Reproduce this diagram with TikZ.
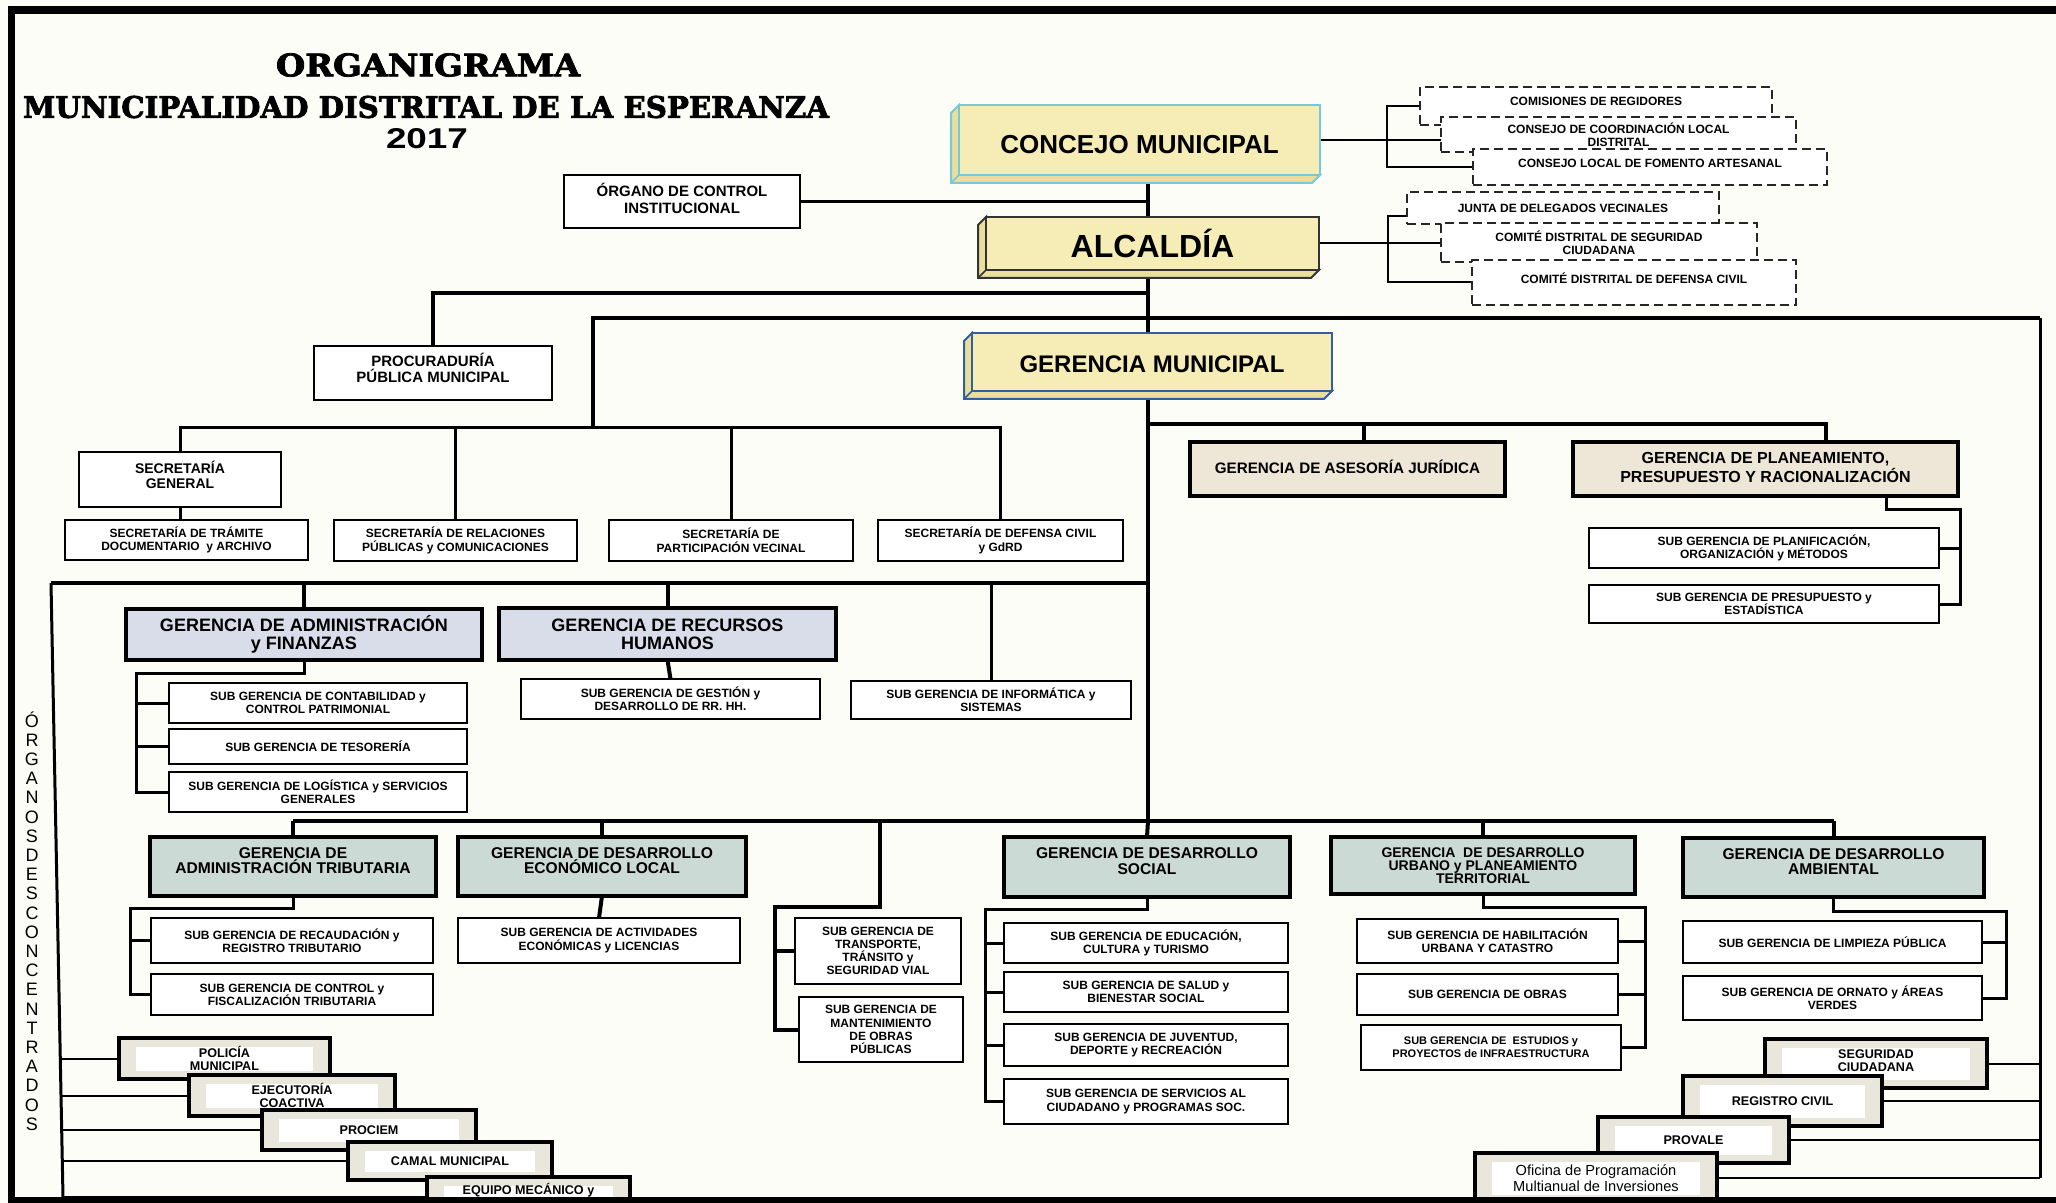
\documentclass[tikz,border=0pt]{standalone}
\usepackage{fontspec}
\usepackage{graphicx}
\setmainfont{Liberation Sans}
\newfontfamily\titlefont{DejaVu Serif}[FakeBold=2.5]
\usetikzlibrary{calc}
\pgfdeclarelayer{back}
\pgfdeclarelayer{bg}
\pgfdeclarelayer{front}
\pgfsetlayers{back,bg,main,front}
\definecolor{paper}{RGB}{253,253,248}
\definecolor{yel}{RGB}{246,236,182}
\definecolor{yelside}{RGB}{234,222,156}
\definecolor{cyanb}{RGB}{120,200,215}
\definecolor{blueb}{RGB}{50,95,160}
\definecolor{beigeg}{RGB}{238,230,215}
\definecolor{bluegr}{RGB}{216,221,233}
\definecolor{greeng}{RGB}{204,218,213}
\definecolor{desc}{RGB}{233,231,219}
\newcommand\setfs[2]{\fontsize{#1}{#2}\selectfont}
\newcommand\OrgBox[7]{%
 \pgfmathsetmacro\bxcx{(#3+#5)/2}%
 \pgfmathsetmacro\bxcy{(#4+#6)/2}%
 \pgfmathsetmacro\bxw{(#5-#3)/2}%
 \pgfmathsetmacro\bxh{(#6-#4)/2}%
 \node[#1, minimum width=\bxw pt, minimum height=\bxh pt] (#2) at (\bxcx,\bxcy) {#7};}
\tikzset{
 base/.style={inner sep=0pt, outer sep=0pt, align=center},
 plainbox/.style={base, draw=black, line width=1.2pt, fill=white},
 subbox/.style={plainbox, font=\bfseries\setfs{6}{6.6}},
 secbox/.style={plainbox, font=\bfseries\setfs{6}{6.8}},
 bigbox/.style={plainbox, font=\bfseries\setfs{7.5}{8.2}},
 dashbox/.style={base, draw=black!85, dash pattern=on 4.5pt off 2.5pt, line width=1.4pt, fill=white, font=\bfseries\setfs{6}{6.5}},
 gerA/.style={base, draw=black, line width=1.8pt, fill=beigeg, font=\bfseries\setfs{8}{7.6}},
 gerB/.style={base, draw=black, line width=1.8pt, fill=bluegr, font=\bfseries\setfs{9}{9}},
 gerC/.style={base, draw=black, line width=1.8pt, fill=greeng, font=\bfseries\setfs{7.8}{7.6}},
 descbox/.style={base, draw=black, line width=1.6pt, fill=desc, font=\bfseries\setfs{6.3}{6.6},
   path picture={\fill[white] ($(path picture bounding box.south west)+(8.5pt,4pt)$) rectangle ($(path picture bounding box.north east)+(-8.5pt,-4.5pt)$);}},
 trunk/.style={line width=2pt},
 mid/.style={line width=1.5pt},
 thinl/.style={line width=1pt},
}
\begin{document}
\begin{tikzpicture}[x=0.5pt,y=-0.5pt]
\useasboundingbox (0,0) rectangle (2056,1203);
\begin{pgfonlayer}{back}
\fill[paper] (0,0) rectangle (2056,1203);
\end{pgfonlayer}
% ---------- title
\node[base, font=\titlefont\bfseries] (t1) at (428,65) {\resizebox{152pt}{11.5pt}{ORGANIGRAMA}};
\node[base, font=\titlefont\bfseries] (t2) at (426,107) {\resizebox{403pt}{11pt}{MUNICIPALIDAD DISTRITAL DE LA ESPERANZA}};
\node[base, font=\bfseries] (t3) at (427,139) {\resizebox{41pt}{10pt}{2017}};
% ---------- top boxes
\OrgBox{bigbox, text depth=3pt}{organo}{564}{175}{800}{228}{ÓRGANO DE CONTROL\\INSTITUCIONAL}
\filldraw[fill=yelside, draw=cyanb, line width=1pt] (959,105) -- (951,113) -- (951,183) -- (1312,183) -- (1320,175) -- (959,175) -- cycle;
\draw[cyanb, line width=0.8pt] (959,175) -- (951,183);
\OrgBox{base, draw=cyanb, line width=1pt, fill=yel, font=\bfseries\setfs{13}{15}, text height=14pt}{concejo}{959}{105}{1320}{175}{CONCEJO MUNICIPAL}
\filldraw[fill=yelside, draw=black!80, line width=1pt] (986,217) -- (978,225) -- (978,278) -- (1311,278) -- (1319,270) -- (986,270) -- cycle;
\draw[black!80, line width=0.8pt] (986,270) -- (978,278);
\OrgBox{base, draw=black!80, line width=1.2pt, fill=yel, font=\bfseries\setfs{16}{18}}{alcaldia}{986}{217}{1319}{270}{ALCALDÍA}
\filldraw[fill=yelside, draw=blueb, line width=1pt] (972,333) -- (964,341) -- (964,399) -- (1324,399) -- (1332,391) -- (972,391) -- cycle;
\draw[blueb, line width=0.8pt] (972,391) -- (964,399);
\OrgBox{base, draw=blueb, line width=1.2pt, fill=yel, font=\bfseries\setfs{12}{14}, text height=11pt}{gm}{972}{333}{1332}{391}{GERENCIA MUNICIPAL}
% committees
\OrgBox{dashbox, text depth=5pt}{cm1}{1420}{87}{1772}{125}{COMISIONES DE REGIDORES}
\OrgBox{dashbox}{cm2}{1441}{117}{1796}{152}{CONSEJO DE COORDINACIÓN LOCAL\\DISTRITAL}
\OrgBox{dashbox, text depth=4pt}{cm3}{1473}{149}{1827}{185}{CONSEJO LOCAL DE FOMENTO ARTESANAL}
\OrgBox{dashbox}{ca1}{1407}{192}{1719}{224}{JUNTA DE DELEGADOS VECINALES}
\OrgBox{dashbox}{ca2}{1441}{223}{1757}{262}{COMITÉ DISTRITAL DE SEGURIDAD\\CIUDADANA}
\OrgBox{dashbox, text depth=4pt}{ca3}{1472}{260}{1796}{305}{COMITÉ DISTRITAL DE DEFENSA CIVIL}
% ---------- secretarias
\OrgBox{bigbox, text depth=5pt}{procu}{314}{346}{552}{400}{PROCURADURÍA\\PÚBLICA MUNICIPAL}
\OrgBox{plainbox, font=\bfseries\setfs{7}{7.8}, text depth=4.6pt}{secgen}{79}{452}{281}{507}{SECRETARÍA\\GENERAL}
\OrgBox{secbox}{tram}{65}{520}{308}{560}{SECRETARÍA DE TRÁMITE\\DOCUMENTARIO \ y ARCHIVO}
\OrgBox{secbox}{rel}{334}{520}{577}{561}{SECRETARÍA DE RELACIONES\\PÚBLICAS y COMUNICACIONES}
\OrgBox{secbox}{part}{609}{520}{853}{561}{SECRETARÍA DE\\PARTICIPACIÓN VECINAL}
\OrgBox{secbox}{def}{878}{520}{1123}{561}{SECRETARÍA DE DEFENSA CIVIL\\y GdRD}
% ---------- right upper
\OrgBox{gerA, font=\bfseries\setfs{7.6}{7.6}, text depth=2.6pt}{ases}{1190}{442}{1505}{496}{GERENCIA DE ASESORÍA JURÍDICA}
\OrgBox{gerA, text depth=1.5pt}{plan}{1573}{442}{1958}{496}{GERENCIA DE PLANEAMIENTO,\\PRESUPUESTO Y RACIONALIZACIÓN}
\OrgBox{subbox}{ps1}{1589}{528}{1939}{568}{SUB GERENCIA DE PLANIFICACIÓN,\\ORGANIZACIÓN y MÉTODOS}
\OrgBox{subbox}{ps2}{1589}{585}{1939}{623}{SUB GERENCIA DE PRESUPUESTO y\\ESTADÍSTICA}
% ---------- admin row
\OrgBox{gerB}{adm}{126}{609}{482}{660}{GERENCIA DE ADMINISTRACIÓN\\y FINANZAS}
\OrgBox{gerB}{rrhh}{499}{608}{836}{660}{GERENCIA DE RECURSOS\\HUMANOS}
\OrgBox{subbox}{s1}{169}{683}{467}{723}{SUB GERENCIA DE CONTABILIDAD y\\CONTROL PATRIMONIAL}
\OrgBox{subbox}{s2}{169}{729}{467}{764}{SUB GERENCIA DE TESORERÍA}
\OrgBox{subbox}{s3}{169}{772}{467}{812}{SUB GERENCIA DE LOGÍSTICA y SERVICIOS\\GENERALES}
\OrgBox{subbox}{rrhhs}{521}{679}{820}{719}{SUB GERENCIA DE GESTIÓN y\\DESARROLLO DE RR. HH.}
\OrgBox{subbox}{inf}{851}{681}{1131}{719}{SUB GERENCIA DE INFORMÁTICA y\\SISTEMAS}
% ---------- bottom row
\OrgBox{gerC, text depth=6pt}{tri}{150}{837}{436}{896}{GERENCIA DE\\ADMINISTRACIÓN TRIBUTARIA}
\OrgBox{gerC, text depth=6pt}{eco}{458}{837}{746}{896}{GERENCIA DE DESARROLLO\\ECONÓMICO LOCAL}
\OrgBox{gerC, text depth=6pt}{soc}{1004}{837}{1290}{897}{GERENCIA DE DESARROLLO\\SOCIAL}
\OrgBox{gerC, font=\bfseries\setfs{7}{6.6}}{urb}{1331}{837}{1635}{894}{GERENCIA \ DE DESARROLLO\\URBANO y PLANEAMIENTO\\TERRITORIAL}
\OrgBox{gerC, text depth=6pt}{amb}{1683}{838}{1984}{897}{GERENCIA DE DESARROLLO\\AMBIENTAL}
\OrgBox{subbox}{rc1}{151}{918}{433}{963}{SUB GERENCIA DE RECAUDACIÓN y\\REGISTRO TRIBUTARIO}
\OrgBox{subbox}{rc2}{151}{974}{433}{1015}{SUB GERENCIA DE CONTROL y\\FISCALIZACIÓN TRIBUTARIA}
\OrgBox{subbox}{ecs}{458}{918}{740}{963}{SUB GERENCIA DE ACTIVIDADES\\ECONÓMICAS y LICENCIAS}
\OrgBox{subbox}{trans}{795}{918}{961}{984}{SUB GERENCIA DE\\TRANSPORTE,\\TRÁNSITO y\\SEGURIDAD VIAL}
\OrgBox{subbox}{mant}{799}{997}{963}{1062}{SUB GERENCIA DE\\MANTENIMIENTO\\DE OBRAS\\PÚBLICAS}
\OrgBox{subbox}{ss1}{1004}{923}{1288}{963}{SUB GERENCIA DE EDUCACIÓN,\\CULTURA y TURISMO}
\OrgBox{subbox}{ss2}{1004}{972}{1288}{1012}{SUB GERENCIA DE SALUD y\\BIENESTAR SOCIAL}
\OrgBox{subbox}{ss3}{1004}{1024}{1288}{1066}{SUB GERENCIA DE JUVENTUD,\\DEPORTE y RECREACIÓN}
\OrgBox{subbox}{ss4}{1004}{1079}{1288}{1124}{SUB GERENCIA DE SERVICIOS AL\\CIUDADANO y PROGRAMAS SOC.}
\OrgBox{subbox}{us1}{1357}{919}{1618}{963}{SUB GERENCIA DE HABILITACIÓN\\URBANA Y CATASTRO}
\OrgBox{subbox}{us2}{1357}{974}{1618}{1015}{SUB GERENCIA DE OBRAS}
\OrgBox{subbox, font=\bfseries\setfs{5.5}{6.4}}{us3}{1361}{1025}{1621}{1070}{SUB GERENCIA DE \ ESTUDIOS y\\PROYECTOS de INFRAESTRUCTURA}
\OrgBox{subbox}{as1}{1683}{921}{1982}{963}{SUB GERENCIA DE LIMPIEZA PÚBLICA}
\OrgBox{subbox}{as2}{1683}{976}{1982}{1020}{SUB GERENCIA DE ORNATO y ÁREAS\\VERDES}
% ---------- organos desconcentrados
\node[base, font=\setfs{9}{9.6}] (vt) at (32,921) {Ó\\R\\G\\A\\N\\O\\S\\D\\E\\S\\C\\O\\N\\C\\E\\N\\T\\R\\A\\D\\O\\S};
\OrgBox{descbox}{pol}{119}{1038}{330}{1079}{POLICÍA\\MUNICIPAL}
\OrgBox{descbox}{eje}{189}{1075}{395}{1116}{EJECUTORÍA\\COACTIVA}
\OrgBox{descbox}{pro}{262}{1110}{476}{1150}{PROCIEM}
\OrgBox{descbox}{cam}{348}{1142}{552}{1180}{CAMAL MUNICIPAL}
\OrgBox{descbox, text depth=7pt}{equ}{427}{1177}{630}{1215}{EQUIPO MECÁNICO y}
\OrgBox{descbox, text depth=3pt}{seg}{1765}{1039}{1987}{1088}{SEGURIDAD\\CIUDADANA}
\OrgBox{descbox}{reg}{1683}{1076}{1882}{1126}{REGISTRO CIVIL}
\OrgBox{descbox}{prov}{1598}{1117}{1789}{1163}{PROVALE}
\OrgBox{descbox, font=\setfs{7.3}{8}}{ofi}{1475}{1153}{1717}{1203}{Oficina de Programación\\Multianual de Inversiones}
% ---------- coordinates
\coordinate (sp) at (1148,0);
\coordinate (bc) at (1387,0);
\coordinate (ba) at (1388,0);
\coordinate (jp) at (1148,293);
\coordinate (jsl) at (593,318);
\coordinate (jsr) at (2040,318);
\coordinate (secrow) at (593,428);
\coordinate (jr) at (1148,424);
\coordinate (asx) at (1364,424);
\coordinate (ptop) at (1826,424);
\coordinate (pbx) at (1886,0);
\coordinate (pb) at (1960,509);
\coordinate (ja) at (1148,583);
\coordinate (jal) at (51,583);
\coordinate (jbl) at (63,1197);
\coordinate (af) at (136,673);
\coordinate (rowb) at (1148,821);
\coordinate (tb) at (880,907);
\coordinate (tl) at (775,907);
\coordinate (tr1) at (130,908);
\coordinate (so1) at (985,909);
\coordinate (ur1) at (1645,907);
\coordinate (am1) at (2006,911);
\coordinate (l1) at (60.3,1058.5);
\coordinate (l2) at (61.0,1095.5);
\coordinate (l3) at (61.7,1130);
\coordinate (l4) at (62.3,1161);
\coordinate (ofr) at (2040,1178);
% ---------- connectors
\begin{pgfonlayer}{bg}
\draw[trunk] (sp |- concejo.south) -- (rowb);
\draw[mid] (organo.east) -- (organo.east -| sp);
\draw[thinl] (cm1.west) -| (bc |- cm3.west) -- (cm3.west);
\draw[thinl] (concejo.east) -- (concejo.east -| cm2.west);
\draw[thinl] ([yshift=-4pt]ca1.west) -| (ba |- ca3.west) -- (ca3.west);
\draw[thinl] (alcaldia.east) -- (alcaldia.east -| ca2.west);
\draw[trunk] (jp) -| (procu.north);
\draw[trunk] (jsr) -- (jsl) -- (secrow);
\draw[mid] (secgen.north) -- (secgen.north |- secrow) -- (def.north |- secrow) -- (def.north);
\draw[mid] (rel.north) -- (rel.north |- secrow);
\draw[mid] (part.north) -- (part.north |- secrow);
\draw[mid] (secgen.south) -- (secgen.south |- tram.north);
\draw[trunk] (jr) -- (ptop) -- (ptop |- plan.north);
\draw[trunk] (asx) -- (asx |- ases.north);
\draw[mid] (pbx |- plan.south) |- (pb) -- (pb |- ps2.east) -- (ps2.east);
\draw[mid] (ps1.east) -- (ps1.east -| pb);
\draw[trunk] (ja) -- (jal);
\draw[trunk] (adm.north) -- (adm.north |- ja);
\draw[trunk] (rrhh.north) -- (rrhh.north |- ja);
\draw[mid] (inf.north) -- (inf.north |- ja);
\draw[mid] (adm.south) |- (af) -- (af |- s3.west) -- (s3.west);
\draw[mid] (s1.west) -- (s1.west -| af);
\draw[mid] (s2.west) -- (s2.west -| af);
\draw[trunk] (rrhh.south) -- (rrhhs.north);
\draw[mid] (jal) -- (jbl);
\draw[thinl] (l1) -- (pol.west);
\draw[thinl] (l2) -- (eje.west);
\draw[thinl] (l3) -- (pro.west);
\draw[thinl] (l4) -- (cam.west);
\draw[thinl] (jbl) -- (jbl -| equ.west);
\draw[mid] (jsr) -- (ofr);
\draw[thinl] (seg.east) -- (seg.east -| jsr);
\draw[thinl] (reg.east) -- (reg.east -| jsr);
\draw[thinl] (prov.east) -- (prov.east -| jsr);
\draw[thinl] (ofr) -- (ofr -| ofi.east);
\draw[trunk] (tri.north |- rowb) -- (amb.north |- rowb);
\draw[trunk] (tri.north) -- (tri.north |- rowb);
\draw[trunk] (eco.north) -- (eco.north |- rowb);
\draw[trunk] (rowb) -- (soc.north);
\draw[trunk] (urb.north) -- (urb.north |- rowb);
\draw[trunk] (amb.north) -- (amb.north |- rowb);
\draw[trunk] (tb |- rowb) -- (tb) -- (tl) -- (tl |- mant.west) -- (mant.west);
\draw[trunk] (trans.west) -- (trans.west -| tl);
\draw[mid] (tri.south) |- (tr1) -- (tr1 |- rc2.west) -- (rc2.west);
\draw[mid] (rc1.west) -- (rc1.west -| tr1);
\draw[trunk] (eco.south) -- (ecs.north);
\draw[mid] (soc.south) |- (so1) -- (so1 |- ss4.west) -- (ss4.west);
\draw[mid] (ss1.west) -- (ss1.west -| so1);
\draw[mid] (ss2.west) -- (ss2.west -| so1);
\draw[mid] (ss3.west) -- (ss3.west -| so1);
\draw[mid] (urb.south) |- (ur1) -- (ur1 |- us3.east) -- (us3.east);
\draw[mid] (us1.east) -- (us1.east -| ur1);
\draw[mid] (us2.east) -- (us2.east -| ur1);
\draw[mid] (amb.south) |- (am1) -- (am1 |- as2.east) -- (as2.east);
\draw[mid] (as1.east) -- (as1.east -| am1);
\end{pgfonlayer}
% ---------- frame
\begin{pgfonlayer}{front}
\fill[black] (8,6) rectangle (2056,14);
\fill[black] (8,6) rectangle (15,1203);
\fill[black] (8,1197) rectangle (2056,1203);
\end{pgfonlayer}
\end{tikzpicture}
\end{document}
